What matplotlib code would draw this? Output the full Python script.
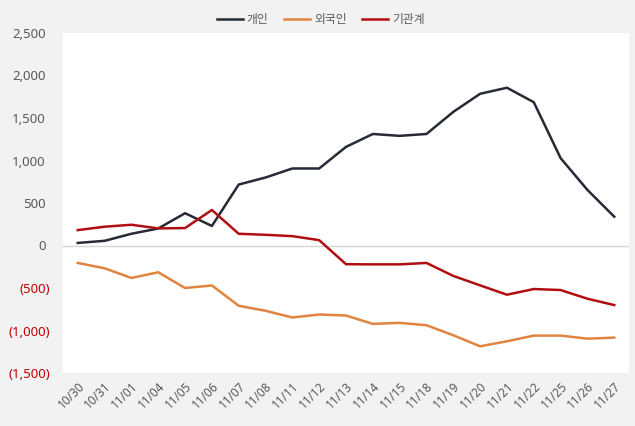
import matplotlib
matplotlib.use("Agg")
import matplotlib.pyplot as plt
import matplotlib.transforms as mtransforms
from matplotlib.ticker import FuncFormatter

dates = ["10/30", "10/31", "11/01", "11/04", "11/05", "11/06", "11/07", "11/08",
         "11/11", "11/12", "11/13", "11/14", "11/15", "11/18", "11/19", "11/20",
         "11/21", "11/22", "11/25", "11/26", "11/27"]
individual = [30, 55, 138, 200, 380, 230, 717, 800, 906, 906, 1160, 1312, 1290,
              1312, 1572, 1785, 1856, 1686, 1028, 654, 339]
foreign = [-205, -268, -382, -315, -500, -470, -709, -768, -847, -812, -824,
           -922, -910, -938, -1056, -1186, -1127, -1060, -1060, -1096, -1084]
institution = [181, 221, 244, 201, 205, 418, 138, 126, 110, 63, -220, -222,
               -222, -205, -358, -469, -579, -512, -524, -626, -701]
series_names = ["개인", "외국인", "기관계"]
yticks = [-1500, -1000, -500, 0, 500, 1000, 1500, 2000, 2500]

plt.rcParams['font.family'] = ['Noto Sans', 'Noto Sans CJK KR', 'DejaVu Sans']

fig = plt.figure(figsize=(6.35, 4.26), dpi=100)
fig.patch.set_facecolor("#f2f2f2")
ax = fig.add_axes([63/635, 1 - 373/426, (629 - 63)/635, (373 - 33)/426])
ax.set_facecolor("white")

x = list(range(len(dates)))
ax.axhline(0, color="#d4d4d4", lw=1.0, zorder=1)
ax.plot(x, individual, color="#252a35", lw=1.8, label=series_names[0], zorder=3)
ax.plot(x, foreign, color="#e0843f", lw=1.8, label=series_names[1], zorder=3)
ax.plot(x, institution, color="#b00e10", lw=1.8, label=series_names[2], zorder=3)

ax.set_xlim(-0.55, len(dates) - 0.45)
ax.set_ylim(-1500, 2500)
ax.set_yticks(yticks)

def fmt(v, pos):
    v = int(round(v))
    if v < 0:
        return "({:,})".format(-v)
    return "{:,}".format(v)

ax.yaxis.set_major_formatter(FuncFormatter(fmt))
ax.set_xticks(x)
ax.set_xticklabels(dates, rotation=45, ha="right", rotation_mode="anchor")

ax.tick_params(axis="y", length=0, pad=9.5, labelsize=9.5)
ax.tick_params(axis="x", length=0, pad=5, labelsize=8.5)
shift = mtransforms.ScaledTranslation(-4/100, 0, fig.dpi_scale_trans)
for lab, v in zip(ax.get_yticklabels(), yticks):
    if v < 0:
        lab.set_color("#c00000")
    else:
        lab.set_color("#595959")
        lab.set_transform(lab.get_transform() + shift)
for lab in ax.get_xticklabels():
    lab.set_color("#595959")
for s in ax.spines.values():
    s.set_visible(False)

leg = fig.legend(loc="upper center", bbox_to_anchor=(0.505, 0.995), ncol=3, frameon=False,
                 fontsize=8.5, handlelength=2.2, columnspacing=1.3, handletextpad=0.35)
for t in leg.get_texts():
    t.set_color("#595959")

fig.savefig("out.png", dpi=100, facecolor=fig.get_facecolor())
